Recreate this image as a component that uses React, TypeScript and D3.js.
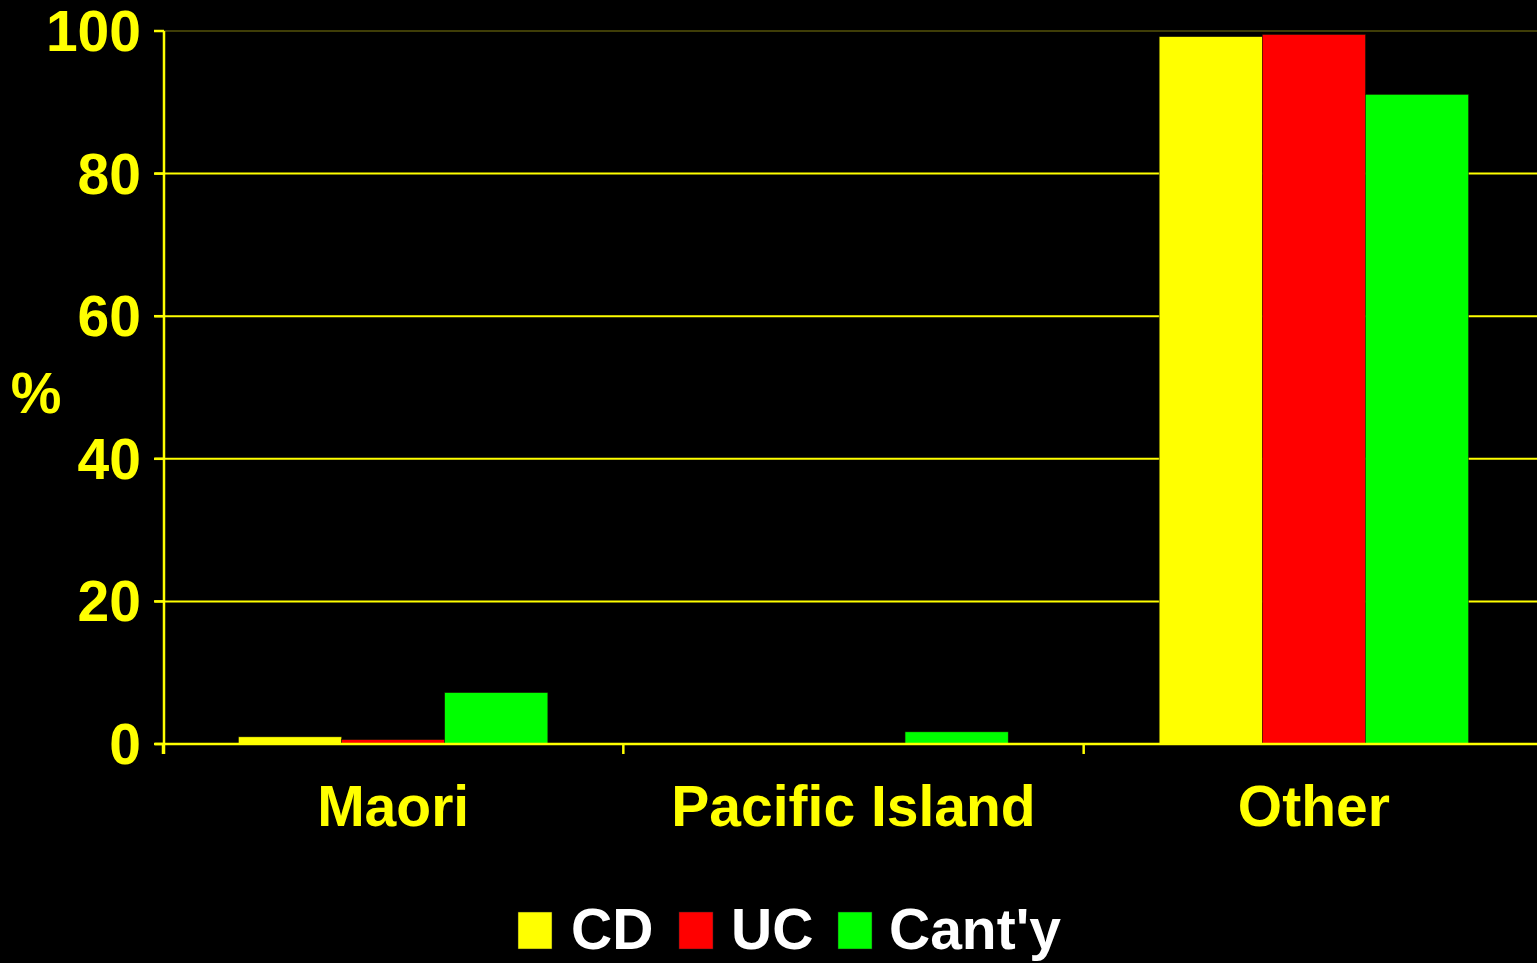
import React from "react";
import * as d3 from "d3";

const categories = ["Maori", "Pacific Island", "Other"];
const seriesNames = ["CD", "UC", "Cant'y"];
const seriesColors = ["#FFFF00", "#FF0000", "#00FF00"];
const cdValues = [1.0, 0.1, 99.2];
const ucValues = [0.6, 0.1, 99.5];
const cantyValues = [7.2, 1.7, 91.1];
const yTicks = [0, 20, 40, 60, 80, 100];

const W = 1537;
const H = 963;
const FONT = "'Liberation Sans', Arial, sans-serif";

export default function App() {
  const seriesValues = [cdValues, ucValues, cantyValues];
  const y = d3.scaleLinear().domain([0, 100]).range([744, 31]);
  const x0 = d3.scaleBand().domain(categories).range([163, 1544]).paddingInner(0).paddingOuter(0);
  const bw = x0.bandwidth();
  const x1 = d3
    .scaleBand()
    .domain(seriesNames)
    .range([bw * 0.164, bw * 0.836])
    .padding(0);

  const legendItems = [
    { name: "CD", sq: 518, tx: 571 },
    { name: "UC", sq: 679, tx: 731 },
    { name: "Cant'y", sq: 838, tx: 889 },
  ];

  return (
    <svg
      width={W}
      height={H}
      style={{ position: "absolute", left: 0, top: 0, display: "block", background: "#000" }}
    >
      <rect x={0} y={0} width={W} height={H} fill="#000" />
      {yTicks.map((t) => (
        <line
          key={"g" + t}
          x1={155}
          x2={W}
          y1={y(t)}
          y2={y(t)}
          stroke={t === 100 ? "#55520a" : "#FFFF00"}
          strokeWidth={t === 100 ? 1.5 : 2}
        />
      ))}
      {yTicks.map((t) => (
        <line key={"t" + t} x1={154} x2={164} y1={y(t)} y2={y(t)} stroke="#FFFF00" strokeWidth={2.5} />
      ))}
      {categories.map((c, ci) => (
        <g key={c} transform={`translate(${x0(c)},0)`}>
          {seriesNames.map((s, si) => {
            const v = seriesValues[si][ci];
            return (
              <rect
                key={s}
                x={x1(s)}
                y={y(v)}
                width={x1.bandwidth()}
                height={y(0) - y(v)}
                fill={seriesColors[si]}
                stroke="#1a1a00"
                strokeWidth={0.5}
              />
            );
          })}
        </g>
      ))}
      <line x1={155} x2={W} y1={y(0)} y2={y(0)} stroke="#FFFF00" strokeWidth={2.5} />
      {categories.map((c) => (
        <line
          key={"xt" + c}
          x1={x0(c) as number}
          x2={x0(c) as number}
          y1={y(0)}
          y2={y(0) + 10}
          stroke="#FFFF00"
          strokeWidth={2.5}
        />
      ))}
      <line x1={164} x2={164} y1={y(100)} y2={y(0) + 10} stroke="#FFFF00" strokeWidth={2.5} />
      {yTicks.map((t) => (
        <text
          key={"l" + t}
          x={141}
          y={y(t) + 20}
          textAnchor="end"
          fill="#FFFF00"
          fontFamily={FONT}
          fontWeight="bold"
          fontSize={57}
        >
          {t}
        </text>
      ))}
      <text x={36} y={413} textAnchor="middle" fill="#FFFF00" fontFamily={FONT} fontWeight="bold" fontSize={57}>
        %
      </text>
      {categories.map((c) => (
        <text
          key={"c" + c}
          x={(x0(c) as number) + bw / 2}
          y={826}
          textAnchor="middle"
          fill="#FFFF00"
          fontFamily={FONT}
          fontWeight="bold"
          fontSize={57}
        >
          {c}
        </text>
      ))}
      {legendItems.map((it, i) => (
        <g key={it.name}>
          <rect x={it.sq} y={912} width={34} height={37} fill={seriesColors[i]} stroke="#222" strokeWidth={0.5} />
          <text x={it.tx} y={949} fill="#FFFFFF" fontFamily={FONT} fontWeight="bold" fontSize={57}>
            {seriesNames[i]}
          </text>
        </g>
      ))}
    </svg>
  );
}
